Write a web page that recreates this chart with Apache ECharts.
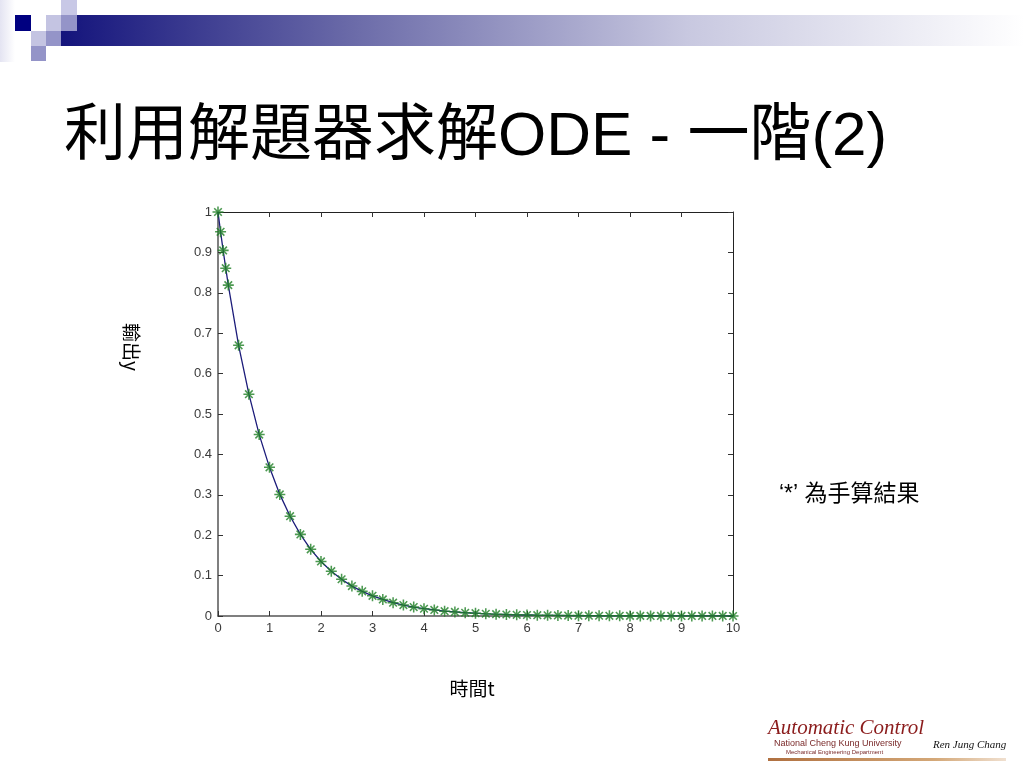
<!DOCTYPE html>
<html>
<head>
<meta charset="utf-8">
<script src="https://cdn.jsdelivr.net/npm/echarts@6/dist/echarts.min.js"></script>
<style>html,body{margin:0;padding:0;background:#fff;}#c{width:1024px;height:768px;}</style>
</head>
<body>
<div id="c"></div>
<script>
// time samples (solver output points)
var tValues = [0, 0.05, 0.1, 0.15, 0.2, 0.4, 0.6, 0.8, 1.0, 1.2, 1.4, 1.6, 1.8, 2.0, 2.2, 2.4, 2.6, 2.8, 3.0,
  3.2, 3.4, 3.6, 3.8, 4.0, 4.2, 4.4, 4.6, 4.8, 5.0, 5.2, 5.4, 5.6, 5.8, 6.0, 6.2, 6.4, 6.6, 6.8, 7.0,
  7.2, 7.4, 7.6, 7.8, 8.0, 8.2, 8.4, 8.6, 8.8, 9.0, 9.2, 9.4, 9.6, 9.8, 10.0];
// solver output y (line)
var ySolver = [1.000, 0.951, 0.905, 0.861, 0.819, 0.670, 0.549, 0.449, 0.368, 0.301, 0.247, 0.202, 0.165, 0.135,
  0.111, 0.091, 0.074, 0.061, 0.050, 0.041, 0.033, 0.027, 0.022, 0.018, 0.015, 0.012, 0.010, 0.008, 0.007,
  0.0055, 0.0045, 0.0037, 0.0030, 0.0025, 0.0020, 0.0017, 0.0014, 0.0011, 0.0009, 0.0007, 0.0006, 0.0005,
  0.0004, 0.0003, 0.0003, 0.0002, 0.0002, 0.0002, 0.0001, 0.0001, 0.0001, 0.0001, 0.0001, 0.0000];
// hand-calculated y ('*' markers)
var yHand = [1.000, 0.951, 0.905, 0.861, 0.819, 0.670, 0.549, 0.449, 0.368, 0.301, 0.247, 0.202, 0.165, 0.135,
  0.111, 0.091, 0.074, 0.061, 0.050, 0.041, 0.033, 0.027, 0.022, 0.018, 0.015, 0.012, 0.010, 0.008, 0.007,
  0.0055, 0.0045, 0.0037, 0.0030, 0.0025, 0.0020, 0.0017, 0.0014, 0.0011, 0.0009, 0.0007, 0.0006, 0.0005,
  0.0004, 0.0003, 0.0003, 0.0002, 0.0002, 0.0002, 0.0001, 0.0001, 0.0001, 0.0001, 0.0001, 0.0000];
var xTickLabels = ['0','1','2','3','4','5','6','7','8','9','10'];
var yTickLabels = ['0','0.1','0.2','0.3','0.4','0.5','0.6','0.7','0.8','0.9','1'];

var titleText = '利用解題器求解ODE - 一階(2)';
var xName = '時間t';
var yName = '輸出y';
var noteText = '‘*’ 為手算結果';

var lineData = tValues.map(function (t, i) { return [t, ySolver[i]]; });
var starData = tValues.map(function (t, i) { return [t, yHand[i]]; });

var starPath = 'path://M-1.4,-10L1.4,-10L1.4,10L-1.4,10Z M-10,-1.4L10,-1.4L10,1.4L-10,1.4Z ' +
  'M-7.9,-5.9L-5.9,-7.9L7.9,5.9L5.9,7.9Z M5.9,-7.9L7.9,-5.9L-5.9,7.9L-7.9,5.9Z';

var chart = echarts.init(document.getElementById('c'), null, {renderer: 'canvas'});
var tickFont = {fontFamily: 'Liberation Sans, Arial, sans-serif', fontSize: 13, color: '#3a3a3a'};
var cjk = '"Noto Sans CJK TC", "Noto Sans CJK SC", sans-serif';

chart.setOption({
  backgroundColor: '#ffffff',
  animation: false,
  grid: {left: 218, right: 291, top: 212, bottom: 152, containLabel: false},
  xAxis: [{
    type: 'value', min: 0, max: 10, interval: 1, position: 'bottom',
    axisLine: {show: true, onZero: false, lineStyle: {color: '#555', width: 1.5}},
    axisTick: {show: true, inside: true, length: 5, lineStyle: {color: '#333'}},
    axisLabel: Object.assign({margin: 6, formatter: function (v) { return xTickLabels[Math.round(v)]; }}, tickFont),
    splitLine: {show: false}
  }, {
    type: 'value', min: 0, max: 10, interval: 1, position: 'top',
    axisLine: {show: true, onZero: false, lineStyle: {color: '#222', width: 1}},
    axisTick: {show: true, inside: true, length: 5, lineStyle: {color: '#333'}},
    axisLabel: {show: false}, splitLine: {show: false}
  }],
  yAxis: [{
    type: 'value', min: 0, max: 1, interval: 0.1, position: 'left',
    axisLine: {show: true, onZero: false, lineStyle: {color: '#555', width: 1.5}},
    axisTick: {show: true, inside: true, length: 5, lineStyle: {color: '#333'}},
    axisLabel: Object.assign({margin: 6, formatter: function (v) { return yTickLabels[Math.round(v * 10)]; }}, tickFont),
    splitLine: {show: false}
  }, {
    type: 'value', min: 0, max: 1, interval: 0.1, position: 'right',
    axisLine: {show: true, onZero: false, lineStyle: {color: '#222', width: 1}},
    axisTick: {show: true, inside: true, length: 5, lineStyle: {color: '#333'}},
    axisLabel: {show: false}, splitLine: {show: false}
  }],
  series: [{
    type: 'line', data: lineData, xAxisIndex: 0, yAxisIndex: 0,
    showSymbol: false, symbol: 'none',
    lineStyle: {color: '#1c1c7a', width: 1.3}, z: 2
  }, {
    type: 'scatter', data: starData, xAxisIndex: 0, yAxisIndex: 0,
    symbol: starPath, symbolSize: 11,
    itemStyle: {color: '#1f7f25'}, z: 3
  }],
  graphic: [
    // slide decoration: gradient bar
    {type: 'rect', shape: {x: 61, y: 15, width: 963, height: 31},
      style: {fill: new echarts.graphic.LinearGradient(0, 0, 1, 0, [
        {offset: 0, color: '#14147c'}, {offset: 0.3, color: '#6a6aa8'},
        {offset: 0.65, color: '#c8c8e0'}, {offset: 1, color: '#ffffff'}])}, z: 1},
    {type: 'rect', shape: {x: 0, y: 0, width: 15, height: 62},
      style: {fill: new echarts.graphic.LinearGradient(0, 0, 1, 0, [
        {offset: 0, color: '#e4e4f2'}, {offset: 1, color: '#ffffff'}])}, z: 1},
    {type: 'rect', shape: {x: 15, y: 15, width: 16, height: 16}, style: {fill: '#000080'}, z: 2},
    {type: 'rect', shape: {x: 46, y: 15, width: 15, height: 16}, style: {fill: '#c4c4e2'}, z: 2},
    {type: 'rect', shape: {x: 61, y: 15, width: 16, height: 16}, style: {fill: '#9494c8'}, z: 2},
    {type: 'rect', shape: {x: 61, y: 0, width: 16, height: 15}, style: {fill: '#c8c8e6'}, z: 2},
    {type: 'rect', shape: {x: 31, y: 31, width: 15, height: 15}, style: {fill: '#c4c4e2'}, z: 2},
    {type: 'rect', shape: {x: 46, y: 31, width: 15, height: 15}, style: {fill: '#9494c8'}, z: 2},
    {type: 'rect', shape: {x: 31, y: 46, width: 15, height: 15}, style: {fill: '#9494c8'}, z: 2},
    // title
    {type: 'text', left: 64, top: 107, z: 5,
      style: {text: titleText, font: '62px "Liberation Sans", ' + cjk, fill: '#000'}},
    // axis names
    {type: 'text', x: 131, y: 347, rotation: -Math.PI / 2, z: 5,
      style: {text: yName, font: '19px ' + cjk, fill: '#000', textAlign: 'center', textVerticalAlign: 'middle'}},
    {type: 'text', x: 472, y: 689, z: 5,
      style: {text: xName, font: '19px ' + cjk, fill: '#000', textAlign: 'center', textVerticalAlign: 'middle'}},
    // note
    {type: 'text', x: 779, y: 495, z: 5,
      style: {text: noteText, font: '23px "Liberation Sans", ' + cjk, fill: '#000', textAlign: 'left', textVerticalAlign: 'middle'}},
    // logo
    {type: 'text', x: 768, y: 728, z: 5,
      style: {text: 'Automatic Control', font: 'italic 21px "Liberation Serif", serif', fill: '#8b1c1c', textAlign: 'left', textVerticalAlign: 'middle'}},
    {type: 'text', x: 774, y: 744, z: 5,
      style: {text: 'National Cheng Kung University', font: '9px "Liberation Sans", sans-serif', fill: '#7a2a2a', textAlign: 'left', textVerticalAlign: 'middle'}},
    {type: 'text', x: 786, y: 752, z: 5,
      style: {text: 'Mechanical Engineering Department', font: '6px "Liberation Sans", sans-serif', fill: '#7a2a2a', textAlign: 'left', textVerticalAlign: 'middle'}},
    {type: 'text', x: 933, y: 745, z: 5,
      style: {text: 'Ren Jung Chang', font: 'italic 11px "Liberation Serif", serif', fill: '#111', textAlign: 'left', textVerticalAlign: 'middle'}},
    {type: 'rect', shape: {x: 768, y: 758, width: 238, height: 3}, z: 5,
      style: {fill: new echarts.graphic.LinearGradient(0, 0, 1, 0, [
        {offset: 0, color: '#b07040'}, {offset: 0.7, color: '#d4a878'}, {offset: 1, color: '#f0e0d0'}])}}
  ]
});
</script>
</body>
</html>
